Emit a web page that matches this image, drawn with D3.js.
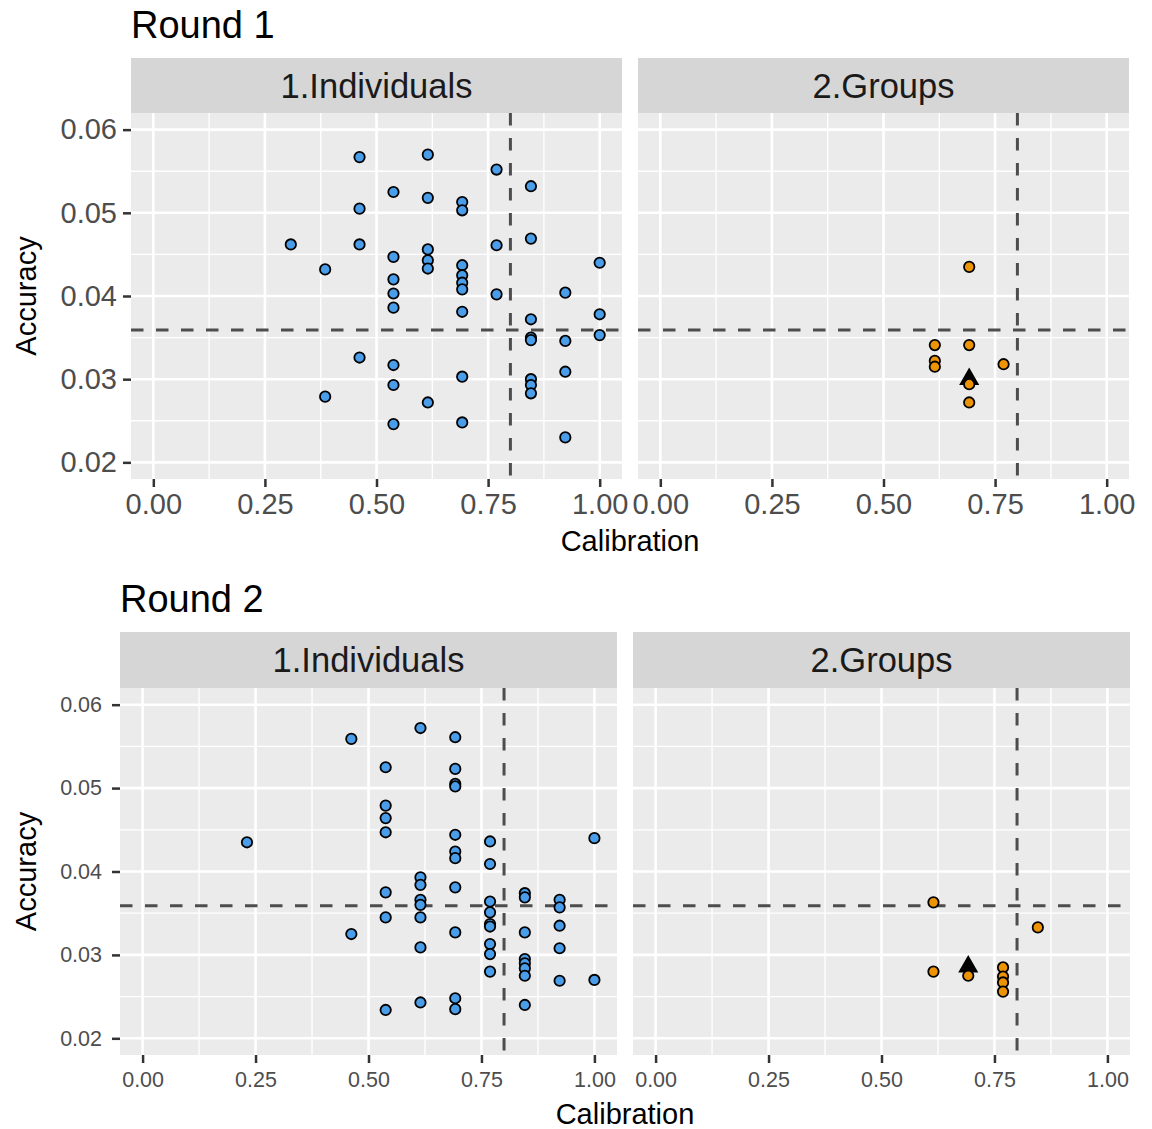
<!DOCTYPE html>
<html>
<head>
<meta charset="utf-8">
<script src="https://cdn.jsdelivr.net/npm/d3@7"></script>
<style>
body { margin: 0; background: #fff; }
text { font-family: "Liberation Sans", Arial, sans-serif; }
</style>
</head>
<body>
<svg id="chart" width="1152" height="1129"></svg>
<script>
//Chart text
var roundTitles = ["Round 1", "Round 2"];
var facetLabels = ["1.Individuals", "2.Groups"];
var xTitle = "Calibration";
var yTitle = "Accuracy";

//Axis ticks and reference lines
var xTicks = [0, 0.25, 0.5, 0.75, 1];
var yTicks = [0.02, 0.03, 0.04, 0.05, 0.06];
var xMinor = [0.125, 0.375, 0.625, 0.875];
var yMinor = [0.025, 0.035, 0.045, 0.055];
var refAccuracy = 0.0359;
var refCalibration = 0.8;

//Round 1, individuals
var r1IndCal = [0.308,
    0.385, 0.385,
    0.462, 0.462, 0.462, 0.462,
    0.538, 0.538, 0.538, 0.538, 0.538, 0.538, 0.538, 0.538,
    0.615, 0.615, 0.615, 0.615, 0.615, 0.615,
    0.692, 0.692, 0.692, 0.692, 0.692, 0.692, 0.692, 0.692, 0.692,
    0.769, 0.769, 0.769,
    0.846, 0.846, 0.846, 0.846, 0.846, 0.846, 0.846, 0.846,
    0.923, 0.923, 0.923, 0.923,
    1.000, 1.000, 1.000];
var r1IndAcc = [0.0462,
    0.0432, 0.0279,
    0.0567, 0.0505, 0.0462, 0.0326,
    0.0525, 0.0447, 0.0420, 0.0403, 0.0386, 0.0317, 0.0293, 0.0246,
    0.0570, 0.0518, 0.0456, 0.0443, 0.0433, 0.0272,
    0.0513, 0.0503, 0.0437, 0.0425, 0.0416, 0.0408, 0.0381, 0.0303, 0.0248,
    0.0552, 0.0461, 0.0402,
    0.0532, 0.0469, 0.0372, 0.0350, 0.0347, 0.0300, 0.0293, 0.0283,
    0.0404, 0.0346, 0.0309, 0.0230,
    0.0440, 0.0378, 0.0353];

//Round 1, groups
var r1GrpCal = [0.692, 0.615, 0.692, 0.615, 0.615, 0.769, 0.692, 0.692];
var r1GrpAcc = [0.0435, 0.0341, 0.0341, 0.0322, 0.0315, 0.0318, 0.0294, 0.0272];
var r1GrpMark = [0.692, 0.0300];

//Round 2, individuals
var r2IndCal = [0.231,
    0.462, 0.462,
    0.538, 0.538, 0.538, 0.538, 0.538, 0.538, 0.538,
    0.615, 0.615, 0.615, 0.615, 0.615, 0.615, 0.615, 0.615,
    0.692, 0.692, 0.692, 0.692, 0.692, 0.692, 0.692, 0.692, 0.692, 0.692, 0.692,
    0.769, 0.769, 0.769, 0.769, 0.769, 0.769, 0.769, 0.769, 0.769,
    0.846, 0.846, 0.846, 0.846, 0.846, 0.846, 0.846, 0.846,
    0.923, 0.923, 0.923, 0.923, 0.923,
    1.000, 1.000];
var r2IndAcc = [0.0435,
    0.0559, 0.0325,
    0.0525, 0.0479, 0.0464, 0.0447, 0.0375, 0.0345, 0.0234,
    0.0572, 0.0393, 0.0384, 0.0366, 0.0360, 0.0345, 0.0309, 0.0243,
    0.0561, 0.0523, 0.0505, 0.0502, 0.0444, 0.0424, 0.0416, 0.0381, 0.0327, 0.0248, 0.0235,
    0.0436, 0.0409, 0.0364, 0.0351, 0.0337, 0.0334, 0.0313, 0.0301, 0.0280,
    0.0374, 0.0369, 0.0327, 0.0295, 0.0290, 0.0284, 0.0275, 0.0240,
    0.0366, 0.0357, 0.0335, 0.0308, 0.0269,
    0.0440, 0.0270];

//Round 2, groups
var r2GrpCal = [0.615, 0.846, 0.615, 0.692, 0.769, 0.769, 0.769, 0.769];
var r2GrpAcc = [0.0363, 0.0333, 0.0280, 0.0275, 0.0285, 0.0274, 0.0267, 0.0256];
var r2GrpMark = [0.692, 0.0286];

var indColor = "#4a9de9";
var grpColor = "#ec9306";

var svg = d3.select("#chart");

//Page layout of the two rounds (pixel boxes only)
var rounds = [
    {title: roundTitles[0], titleX: 131, titleY: 38, left: 131, stripTop: 58, stripH: 55, panelH: 366, panelW: 491, gap: 16,
     tickFont: 29, yPad: 6, xPad: 6, xTitleY: 551,
     panels: [{cal: r1IndCal, acc: r1IndAcc, fill: indColor, mark: null},
              {cal: r1GrpCal, acc: r1GrpAcc, fill: grpColor, mark: r1GrpMark}]},
    {title: roundTitles[1], titleX: 120, titleY: 612, left: 120, stripTop: 632, stripH: 56, panelH: 367, panelW: 497, gap: 16,
     tickFont: 21.5, yPad: 10, xPad: 9, xTitleY: 1124,
     panels: [{cal: r2IndCal, acc: r2IndAcc, fill: indColor, mark: null},
              {cal: r2GrpCal, acc: r2GrpAcc, fill: grpColor, mark: r2GrpMark}]}
];

var drawRound = function(r)
{
    let panelTop = r.stripTop + r.stripH;
    let panelBottom = panelTop + r.panelH;

    svg.append("text").attr("x", r.titleX).attr("y", r.titleY)
        .attr("font-size", 38).attr("fill", "#000").text(r.title);

    let y = d3.scaleLinear().domain([0.018, 0.062]).range([panelBottom, panelTop]);

    r.panels.forEach(function(p, i)
    {
        let x0 = r.left + i * (r.panelW + r.gap);
        let x = d3.scaleLinear().domain([-0.05, 1.05]).range([x0, x0 + r.panelW]);
        let g = svg.append("g");

        //strip
        g.append("rect").attr("x", x0).attr("y", r.stripTop).attr("width", r.panelW).attr("height", r.stripH).attr("fill", "#d6d6d6");
        g.append("text").attr("x", x0 + r.panelW / 2).attr("y", r.stripTop + r.stripH / 2 + 12)
            .attr("text-anchor", "middle").attr("font-size", 34.5).attr("fill", "#1a1a1a").text(facetLabels[i]);

        //panel background and grid
        g.append("rect").attr("x", x0).attr("y", panelTop).attr("width", r.panelW).attr("height", r.panelH).attr("fill", "#ebebeb");
        g.selectAll(".xminor").data(xMinor).enter().append("line")
            .attr("x1", d => x(d)).attr("x2", d => x(d)).attr("y1", panelTop).attr("y2", panelBottom)
            .attr("stroke", "#fff").attr("stroke-width", 1.3);
        g.selectAll(".yminor").data(yMinor).enter().append("line")
            .attr("x1", x0).attr("x2", x0 + r.panelW).attr("y1", d => y(d)).attr("y2", d => y(d))
            .attr("stroke", "#fff").attr("stroke-width", 1.3);
        g.selectAll(".xmajor").data(xTicks).enter().append("line")
            .attr("x1", d => x(d)).attr("x2", d => x(d)).attr("y1", panelTop).attr("y2", panelBottom)
            .attr("stroke", "#fff").attr("stroke-width", 2.6);
        g.selectAll(".ymajor").data(yTicks).enter().append("line")
            .attr("x1", x0).attr("x2", x0 + r.panelW).attr("y1", d => y(d)).attr("y2", d => y(d))
            .attr("stroke", "#fff").attr("stroke-width", 2.6);

        //reference lines
        g.append("line").attr("x1", x0).attr("x2", x0 + r.panelW).attr("y1", y(refAccuracy)).attr("y2", y(refAccuracy))
            .attr("stroke", "#4d4d4d").attr("stroke-width", 3).attr("stroke-dasharray", "12.5,12.5");
        g.append("line").attr("x1", x(refCalibration)).attr("x2", x(refCalibration)).attr("y1", panelTop).attr("y2", panelBottom)
            .attr("stroke", "#4d4d4d").attr("stroke-width", 3).attr("stroke-dasharray", "12.5,12.5");

        //summary triangle sits under the circles
        if(p.mark != null)
        {
            g.append("path").attr("d", d3.symbol(d3.symbolTriangle, 175)())
                .attr("transform", "translate(" + x(p.mark[0]) + "," + y(p.mark[1]) + ")")
                .attr("fill", "#000");
        }

        g.selectAll(".pt").data(d3.range(p.cal.length)).enter().append("circle")
            .attr("cx", k => x(p.cal[k])).attr("cy", k => y(p.acc[k])).attr("r", 5.2)
            .attr("fill", p.fill).attr("stroke", "#000").attr("stroke-width", 1.8);

        //x axis
        let xa = g.append("g").attr("transform", "translate(0," + panelBottom + ")")
            .call(d3.axisBottom(x).tickValues(xTicks).tickFormat(d3.format(".2f")).tickSize(8).tickPadding(r.xPad));
        xa.select(".domain").remove();
        xa.selectAll("line").attr("stroke", "#333").attr("stroke-width", 2.5);
        xa.selectAll("text").attr("font-size", r.tickFont).attr("fill", "#4d4d4d").attr("font-family", null);

        //y axis only on the first panel
        if(i == 0)
        {
            let ya = g.append("g").attr("transform", "translate(" + x0 + ",0)")
                .call(d3.axisLeft(y).tickValues(yTicks).tickFormat(d3.format(".2f")).tickSize(8).tickPadding(r.yPad));
            ya.select(".domain").remove();
            ya.selectAll("line").attr("stroke", "#333").attr("stroke-width", 2.5);
            ya.selectAll("text").attr("font-size", r.tickFont).attr("fill", "#4d4d4d").attr("font-family", null);
        }
    });

    let fullW = 2 * r.panelW + r.gap;
    svg.append("text").attr("x", r.left + fullW / 2).attr("y", r.xTitleY)
        .attr("text-anchor", "middle").attr("font-size", 29).attr("fill", "#000").text(xTitle);
    svg.append("text").attr("transform", "translate(36," + (panelTop + r.panelH / 2) + ") rotate(-90)")
        .attr("text-anchor", "middle").attr("font-size", 29).attr("fill", "#000").text(yTitle);
}

rounds.forEach(drawRound);
</script>
</body>
</html>
